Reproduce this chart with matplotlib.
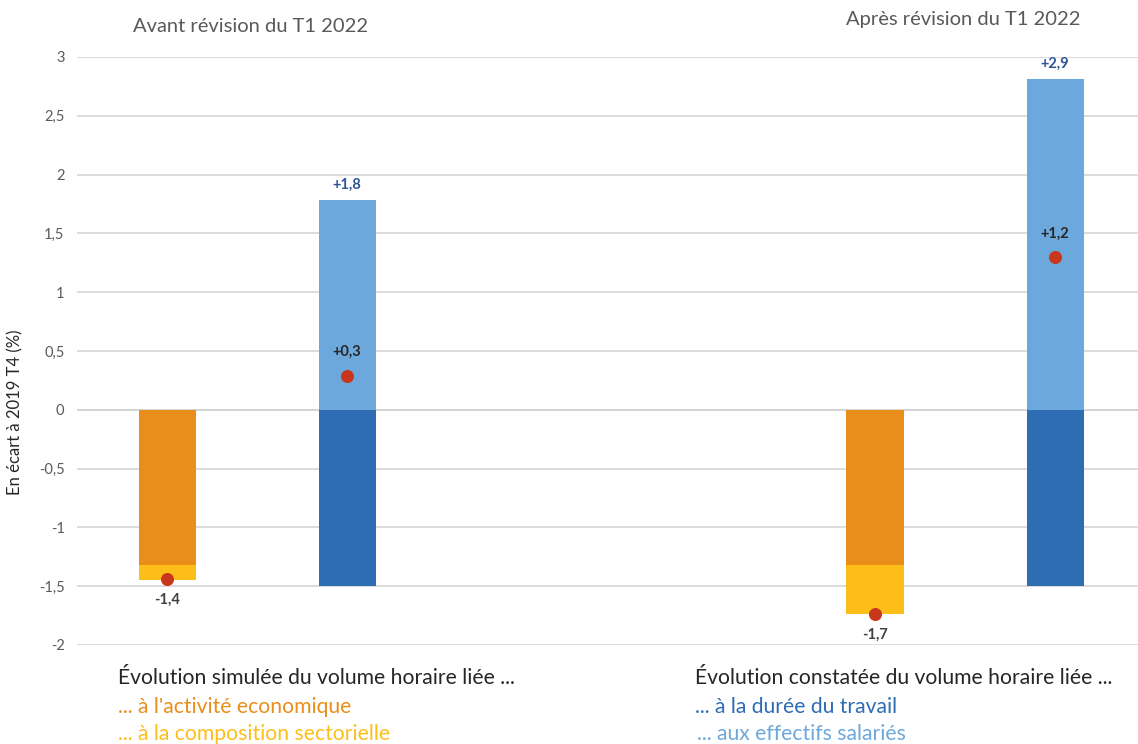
import matplotlib.pyplot as plt
from matplotlib.ticker import FuncFormatter

plt.rcParams['font.family'] = ['Lato', 'DejaVu Sans']

# ---------------- data ----------------
panels = ["Avant révision du T1 2022", "Après révision du T1 2022"]
activite = [-1.32, -1.32]          # simulated part : economic activity
composition = [-0.13, -0.42]       # simulated part : sector composition
duree = [-1.50, -1.50]             # observed part : working time
effectifs = [1.78, 2.81]           # observed part : headcount
total_simule = [-1.44, -1.74]
total_constate = [0.29, 1.30]
lab_simule = ["-1,4", "-1,7"]
lab_constate = ["+0,3", "+1,2"]
lab_effectifs = ["+1,8", "+2,9"]

# ---------------- styling ----------------
c_orange = "#E98E1A"
c_yellow = "#FDBE19"
c_dblue = "#2E6DB4"
c_lblue = "#6CA8DC"
c_dot = "#C8361C"
c_lab_blue = "#2F5597"

fig = plt.figure(figsize=(11.38, 7.44), dpi=100)
ax = fig.add_axes([77 / 1138, 99 / 744, 1 - 77 / 1138, 588 / 744])

x_sim = [0, 3.93]
x_obs = [1, 4.93]
w = 0.317

ax.bar(x_sim, activite, width=w, color=c_orange, zorder=2)
ax.bar(x_sim, composition, width=w, bottom=activite, color=c_yellow, zorder=2)
ax.bar(x_obs, duree, width=w, color=c_dblue, zorder=2)
ax.bar(x_obs, effectifs, width=w, color=c_lblue, zorder=2)

ax.scatter(x_sim, total_simule, s=70, color=c_dot, zorder=3)
ax.scatter(x_obs, total_constate, s=70, color=c_dot, zorder=3)

for i in range(2):
    ax.annotate(lab_simule[i], (x_sim[i], total_simule[i]), xytext=(0, -15),
                textcoords="offset points", ha="center", va="center",
                fontsize=10.5, fontweight="bold", color="#404040")
    ax.annotate(lab_constate[i], (x_obs[i], total_constate[i]), xytext=(0, 17),
                textcoords="offset points", ha="center", va="center",
                fontsize=10.5, fontweight="bold", color="#262626")
    ax.annotate(lab_effectifs[i], (x_obs[i], effectifs[i]), xytext=(0, 11),
                textcoords="offset points", ha="center", va="center",
                fontsize=10.5, fontweight="bold", color=c_lab_blue)

ax.set_ylim(-2, 3)
ax.set_xlim(-0.5, 5.39)
ax.set_yticks([-2, -1.5, -1, -0.5, 0, 0.5, 1, 1.5, 2, 2.5, 3])
ax.yaxis.set_major_formatter(FuncFormatter(lambda v, p: ("%g" % v).replace(".", ",")))
ax.set_xticks([])
ax.tick_params(axis="y", length=0, pad=9, labelsize=10.5, labelcolor="#595959")
ax.grid(axis="y", color="#d9d9d9", linewidth=1.3, zorder=0)
ax.axhline(0, color="#a6a6a6", linewidth=1.3, zorder=1)
for s in ax.spines.values():
    s.set_visible(False)

fig.text(15 / 1138, 1 - 412 / 744, "En écart à 2019 T4 (%)", rotation=90,
         ha="center", va="center", fontsize=12, color="#262626")

# panel titles
fig.text(251 / 1138, 1 - 27 / 744, panels[0], ha="center", va="center",
         fontsize=14.5, color="#595959")
fig.text(963 / 1138, 1 - 20 / 744, panels[1], ha="center", va="center",
         fontsize=14.5, color="#595959")

# legend text at the bottom
fs = 15.2
fig.text(118 / 1138, 1 - 678 / 744, "Évolution simulée du volume horaire liée ...",
         ha="left", va="center", fontsize=fs, color="#262626")
fig.text(118 / 1138, 1 - 707 / 744, "... à l'activité economique",
         ha="left", va="center", fontsize=fs, color=c_orange)
fig.text(118 / 1138, 1 - 734 / 744, "... à la composition sectorielle",
         ha="left", va="center", fontsize=fs, color=c_yellow)
fig.text(695 / 1138, 1 - 678 / 744, "Évolution constatée du volume horaire liée ...",
         ha="left", va="center", fontsize=fs, color="#262626")
fig.text(695 / 1138, 1 - 707 / 744, "... à la durée du travail",
         ha="left", va="center", fontsize=fs, color=c_dblue)
fig.text(697 / 1138, 1 - 734 / 744, "... aux effectifs salariés",
         ha="left", va="center", fontsize=fs, color=c_lblue)

fig.savefig("out.png", dpi=100)
